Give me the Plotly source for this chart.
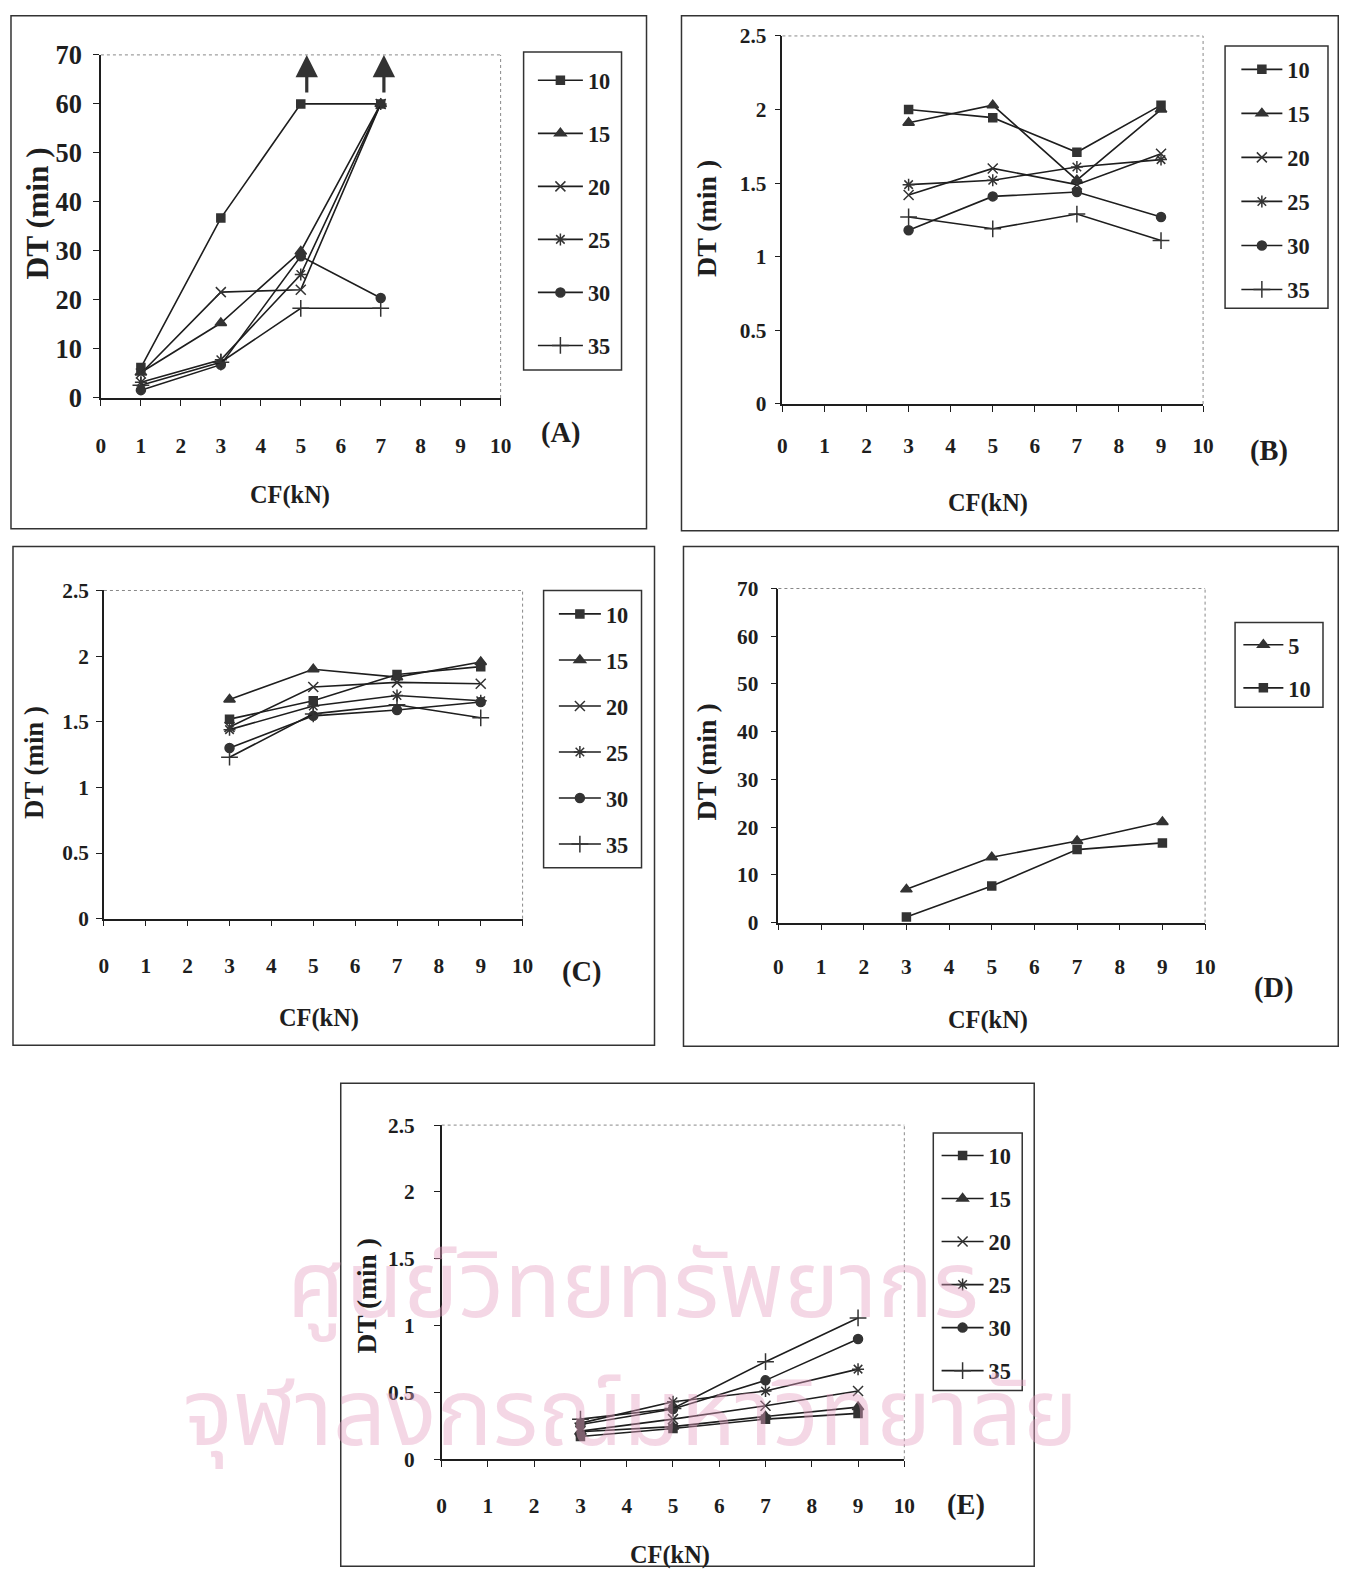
import plotly.graph_objects as go

W, H = 1350, 1582
FONT = "Liberation Serif, Times New Roman, serif"
INK = "#1e1e1e"

# ---------------- data ----------------
series_names = ["10", "15", "20", "25", "30", "35"]
d_names = ["5", "10"]

a_x = [1, 3, 5, 7]
a_10 = [6.2, 36.7, 60.0, 60.0]
a_15 = [5.2, 15.3, 29.9, 60.0]
a_20 = [5.0, 21.6, 22.1, 60.0]
a_25 = [3.2, 7.8, 25.2, 60.0]
a_30 = [1.6, 6.8, 28.9, 20.4]
a_35 = [2.6, 7.3, 18.3, 18.3]
a_arrow_x = [5.15, 7.08]
a_arrow_from = 62.0
a_arrow_to = 70.0

bcde_x = [3, 5, 7, 9]
b_10 = [2.00, 1.945, 1.71, 2.03]
b_15 = [1.91, 2.03, 1.52, 2.00]
b_20 = [1.42, 1.60, 1.49, 1.70]
b_25 = [1.49, 1.52, 1.61, 1.66]
b_30 = [1.18, 1.41, 1.44, 1.27]
b_35 = [1.27, 1.19, 1.29, 1.11]

c_10 = [1.52, 1.66, 1.86, 1.92]
c_15 = [1.67, 1.90, 1.84, 1.955]
c_20 = [1.46, 1.765, 1.80, 1.79]
c_25 = [1.44, 1.62, 1.70, 1.66]
c_30 = [1.30, 1.545, 1.59, 1.65]
c_35 = [1.23, 1.56, 1.63, 1.53]

d_5 = [6.97, 13.7, 17.1, 21.1]
d_10 = [1.18, 7.66, 15.3, 16.7]

e_10 = [0.17, 0.23, 0.30, 0.343]
e_15 = [0.206, 0.244, 0.32, 0.39]
e_20 = [0.21, 0.30, 0.40, 0.51]
e_25 = [0.27, 0.43, 0.51, 0.674]
e_30 = [0.26, 0.376, 0.59, 0.90]
e_35 = [0.30, 0.38, 0.73, 1.057]

x_ticks = list(range(0, 11))
x_title = "CF(kN)"
y_title = "DT (min )"
panel_labels = ["(A)", "(B)", "(C)", "(D)", "(E)"]
watermark_1 = "ศูนย์วิทยทรัพยากร"
watermark_2 = "จุฬาลงกรณ์มหาวิทยาลัย"

# ---------------- helpers ----------------
# The page is captured with a small border/scale; map target pixel positions
# into figure pixels so they land where intended.
SX, OX = 0.9889, 4.0
SY, OY = 0.9836, 13.0
FS = 1.015  # font size compensation


def fxp(xp):
    return min(max((xp - OX) / SX, 0.75), W - 0.75)


def fyp(yp):
    return min(max((yp - OY) / SY, 0.75), H - 0.75)


def px(xp):
    return fxp(xp) / W


def py(yp):
    return 1 - fyp(yp) / H


def dom_x(a, b):
    return [px(a), px(b)]


def dom_y(top, bottom):
    return [py(bottom), py(top)]


SYM = {
    "10": "square",
    "15": "triangle-up",
    "20": "x-thin-open",
    "25": "asterisk-open",
    "30": "circle",
    "35": "cross-thin-open",
    "5": "triangle-up",
}
SIZE = {"square": 8, "triangle-up": 10, "x-thin-open": 10, "asterisk-open": 10,
        "circle": 9, "cross-thin-open": 12}

fig = go.Figure()


def add_series(x, y, name, xa, ya, legend, group):
    sym = SYM[name]
    fig.add_trace(go.Scatter(
        x=x, y=y, name=name, mode="lines+markers",
        xaxis=xa, yaxis=ya, legend=legend, legendgroup=group,
        line=dict(color=INK, width=1.6),
        marker=dict(symbol=sym, size=SIZE[sym], color="#333333",
                    line=dict(color="#333333", width=1.5)),
        hoverinfo="skip",
    ))


panels = [
    ("x", "y", "legend", a_x, [a_10, a_15, a_20, a_25, a_30, a_35], series_names),
    ("x2", "y2", "legend2", bcde_x, [b_10, b_15, b_20, b_25, b_30, b_35], series_names),
    ("x3", "y3", "legend3", bcde_x, [c_10, c_15, c_20, c_25, c_30, c_35], series_names),
    ("x4", "y4", "legend4", bcde_x, [d_5, d_10], d_names),
    ("x5", "y5", "legend5", bcde_x, [e_10, e_15, e_20, e_25, e_30, e_35], series_names),
]
for pi, (xa, ya, lg, xs, ys, names) in enumerate(panels):
    for name, yv in zip(names, ys):
        add_series(xs, yv, name, xa, ya, lg, f"p{pi}_{name}")


# ---------------- axes ----------------
def xaxis_cfg(domain, anchor, standoff, size=21):
    return dict(domain=domain, anchor=anchor, range=[0, 10], tickvals=x_ticks,
                showgrid=False, zeroline=False, showline=True, linecolor=INK,
                linewidth=1.5, ticks="outside", ticklen=6, tickwidth=1.2,
                tickcolor=INK, ticklabelstandoff=int(round(standoff)), fixedrange=True,
                tickfont=dict(family=FONT, size=size * FS, color=INK, weight="bold"))


def yaxis_cfg(domain, anchor, rng, dtick, size=21, standoff=8):
    return dict(domain=domain, anchor=anchor, range=rng, dtick=dtick, tick0=0,
                showgrid=False, zeroline=False, showline=True, linecolor=INK,
                linewidth=1.5, ticks="outside", ticklen=6, tickwidth=1.2,
                tickcolor=INK, ticklabelstandoff=int(round(standoff)), fixedrange=True,
                tickfont=dict(family=FONT, size=size * FS, color=INK, weight="bold"))


fig.update_layout(
    xaxis=xaxis_cfg(dom_x(100, 500), "y", 22),
    yaxis=yaxis_cfg(dom_y(53, 397), "x", [0, 70], 10, size=26, standoff=6),
    xaxis2=xaxis_cfg(dom_x(782, 1203), "y2", 16),
    yaxis2=yaxis_cfg(dom_y(34, 403), "x2", [0, 2.5], 0.5, standoff=4),
    xaxis3=xaxis_cfg(dom_x(103, 522), "y3", 21),
    yaxis3=yaxis_cfg(dom_y(590, 919), "x3", [0, 2.5], 0.5, standoff=3),
    xaxis4=xaxis_cfg(dom_x(778, 1205), "y4", 18),
    yaxis4=yaxis_cfg(dom_y(588, 923), "x4", [0, 70], 10, standoff=8),
    xaxis5=xaxis_cfg(dom_x(441, 904), "y5", 20),
    yaxis5=yaxis_cfg(dom_y(1126, 1461), "x5", [0, 2.5], 0.5, standoff=15),
)


# ---------------- legends (box drawn as shape, legend borderless inside) ----------------
def legend_cfg(line_start, first_entry, gap, text_off):
    return dict(x=px(line_start - 6.7), y=py(first_entry - 21.6),
                xanchor="left", yanchor="top",
                borderwidth=0, bgcolor="rgba(255,255,255,0)",
                tracegroupgap=int(round(gap)), itemclick=False, itemdoubleclick=False,
                itemwidth=int(round(max(30, 36 + (text_off - 39.4) / SX))),
                font=dict(family=FONT, size=22 * FS, color=INK, weight="bold"))


fig.update_layout(
    legend=legend_cfg(539, 79, 21, 48),
    legend2=legend_cfg(1243, 68, 11.5, 44),
    legend3=legend_cfg(560, 614, 14, 45),
    legend4=legend_cfg(1245, 645, 10.6, 43),
    legend5=legend_cfg(943, 1157, 11.1, 45),
)
legend_boxes = [(523, 50, 621, 369), (1225, 44, 1328, 307), (543, 590, 641, 868),
                (1235, 622, 1323, 707), (933, 1134, 1022, 1392)]

# ---------------- shapes ----------------
shapes = []
frames = [(10, 8, 646, 528), (681, 8, 1342, 530), (12, 546, 654, 1046),
          (683, 546, 1345, 1047), (340, 1084, 1034, 1581)]
for (x0, y0, x1, y1) in frames + legend_boxes:
    shapes.append(dict(type="rect", xref="paper", yref="paper",
                       x0=px(x0), x1=px(x1), y0=py(y1), y1=py(y0),
                       line=dict(color="#333333", width=1.5), layer="below"))
for xa, ya in [("x", "y"), ("x2", "y2"), ("x3", "y3"), ("x4", "y4"), ("x5", "y5")]:
    shapes.append(dict(type="line", xref=f"{xa} domain", yref=f"{ya} domain",
                       x0=0, x1=1, y0=1, y1=1,
                       line=dict(color="#888888", width=1, dash="dot")))
    shapes.append(dict(type="line", xref=f"{xa} domain", yref=f"{ya} domain",
                       x0=1, x1=1, y0=0, y1=1,
                       line=dict(color="#888888", width=1, dash="dot")))
fig.update_layout(shapes=shapes)

# ---------------- annotations ----------------
ann = []
CM = dict(xanchor="center", yanchor="middle", showarrow=False)
WM_FONT = dict(family="Noto Sans Thai, Noto Sans, sans-serif",
               size=92 * FS, color="rgba(228,160,192,0.42)")
ann.append(dict(xref="paper", yref="paper", x=px(632), y=py(1290), text=watermark_1,
                font=WM_FONT, **CM))
ann.append(dict(xref="paper", yref="paper", x=px(630), y=py(1418), text=watermark_2,
                font=WM_FONT, **CM))

ytitle_pos = [(37, 212, 31), (706, 217, 27.5), (33, 762, 26.5), (706, 762, 27.5),
              (366, 1297, 27)]
for (xp, yp, fs) in ytitle_pos:
    ann.append(dict(xref="paper", yref="paper", x=px(xp), y=py(yp), text=y_title,
                    textangle=-90,
                    font=dict(family=FONT, size=fs * FS, color=INK, weight="bold"), **CM))
xtitle_pos = [(289, 494), (988, 502), (318, 1019), (988, 1021), (670, 1557)]
for (xp, yp) in xtitle_pos:
    ann.append(dict(xref="paper", yref="paper", x=px(xp), y=py(yp), text=x_title,
                    font=dict(family=FONT, size=24 * FS, color=INK, weight="bold"), **CM))
label_pos = [(560, 432), (1269, 450), (581, 972), (1273, 989), (966, 1507)]
for lab, (xp, yp) in zip(panel_labels, label_pos):
    ann.append(dict(xref="paper", yref="paper", x=px(xp), y=py(yp), text=lab,
                    font=dict(family=FONT, size=28 * FS, color=INK, weight="bold"), **CM))
# arrows in panel A (values beyond 60)
for ax_x in a_arrow_x:
    ann.append(dict(xref="x", yref="y", axref="x", ayref="y",
                    x=ax_x, y=a_arrow_to, ax=ax_x, ay=a_arrow_from, text="",
                    showarrow=True, arrowhead=2, arrowsize=1.4, arrowwidth=3.2,
                    arrowcolor="#333333"))
fig.update_layout(annotations=ann)

fig.update_layout(
    width=W, height=H, margin=dict(l=0, r=0, t=0, b=0),
    paper_bgcolor="white", plot_bgcolor="white",
    font=dict(family=FONT, color=INK),
)

fig.write_html("out.html")
